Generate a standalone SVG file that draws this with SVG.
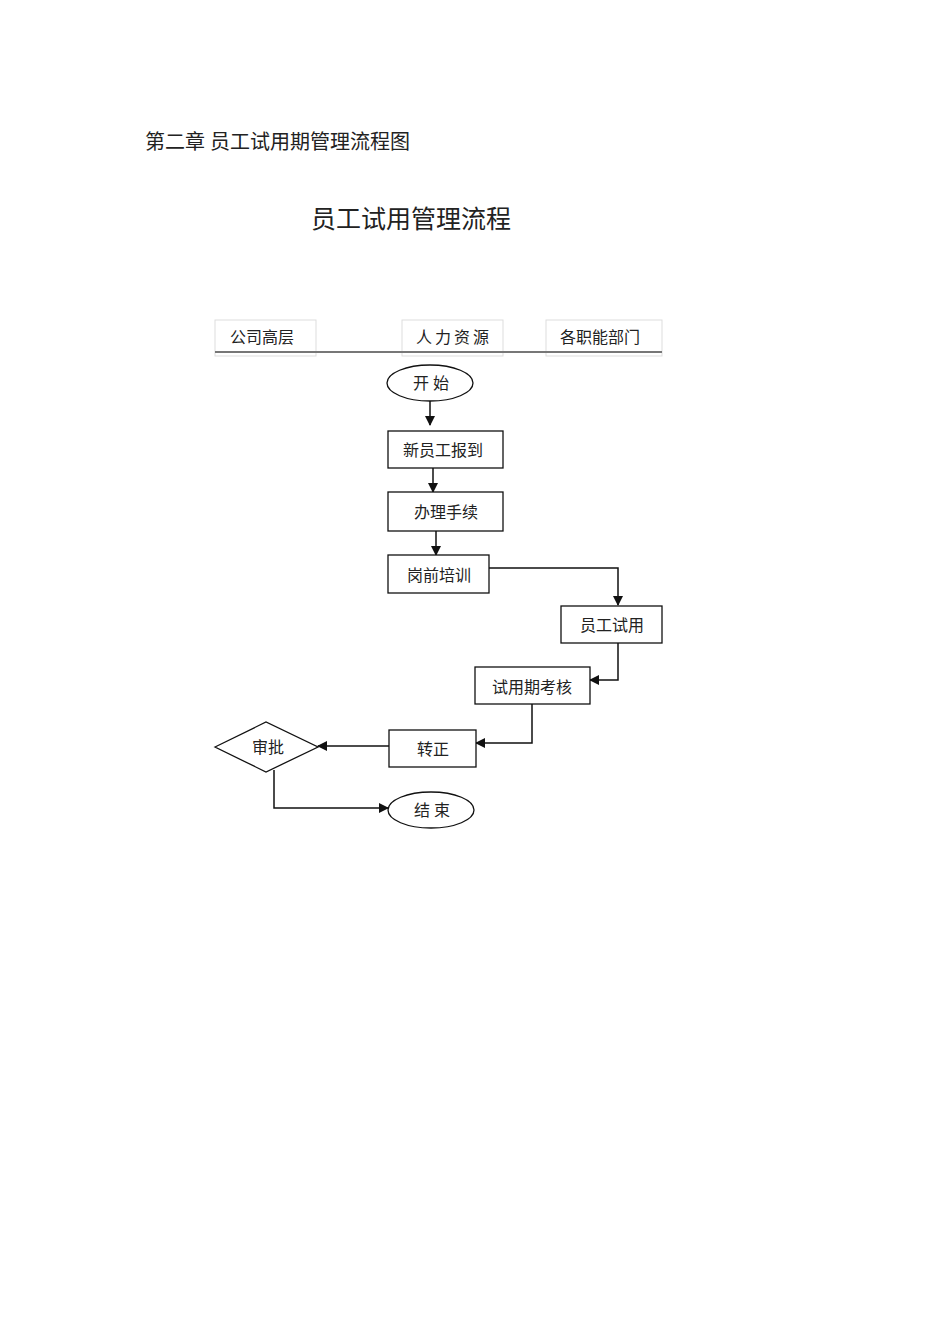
<svg xmlns="http://www.w3.org/2000/svg" width="950" height="1344" viewBox="0 0 950 1344">
<style>
text{font-family:"Liberation Serif","Noto Sans CJK SC",serif;fill:#222}
.n{font-size:16px;text-anchor:middle}
.b{fill:#fff;stroke:#111;stroke-width:1.3}
.c{fill:none;stroke:#111;stroke-width:1.5}
.h{fill:none;stroke:#ddd;stroke-width:1}
</style>
<defs><marker id="a" markerWidth="10" markerHeight="10" refX="9" refY="5" orient="auto" markerUnits="userSpaceOnUse"><path d="M0,0 L10,5 L0,10 Z" fill="#111"/></marker></defs>
<rect width="950" height="1344" fill="#fff"/>
<text x="145" y="149" font-size="20">第二章  员工试用期管理流程图</text>
<text x="311" y="228" font-size="25">员工试用管理流程</text>
<g id="header">
<rect class="h" x="215" y="320" width="101" height="36"/>
<rect class="h" x="402" y="320" width="101" height="36"/>
<rect class="h" x="546" y="320" width="116" height="36"/>
<line x1="215" y1="352" x2="662" y2="352" stroke="#777" stroke-width="2"/>
<text class="n" x="262" y="343">公司高层</text>
<text class="n" x="454" y="343" letter-spacing="3">人力资源</text>
<text class="n" x="600" y="343">各职能部门</text>
</g>
<g id="connectors">
<line class="c" x1="430" y1="401" x2="430" y2="425" marker-end="url(#a)"/>
<line class="c" x1="433" y1="468" x2="433" y2="492" marker-end="url(#a)"/>
<line class="c" x1="436" y1="531" x2="436" y2="555" marker-end="url(#a)"/>
<polyline class="c" points="489,568 618,568 618,605" marker-end="url(#a)"/>
<polyline class="c" points="618,643 618,680 590,680" marker-end="url(#a)"/>
<polyline class="c" points="532,704 532,743 476,743" marker-end="url(#a)"/>
<line class="c" x1="389" y1="746" x2="318" y2="746" marker-end="url(#a)"/>
<polyline class="c" points="274,770 274,808 388,808" marker-end="url(#a)"/>
</g>
<g id="start"><ellipse class="b" cx="430" cy="383" rx="43" ry="18"/><text class="n" x="431" y="389">开 始</text></g>
<g id="n1"><rect class="b" x="388" y="431" width="115" height="37"/><text class="n" x="443" y="456">新员工报到</text></g>
<g id="n2"><rect class="b" x="388" y="492" width="115" height="39" stroke-width="2"/><text class="n" x="446" y="518">办理手续</text></g>
<g id="n3"><rect class="b" x="388" y="555" width="101" height="38"/><text class="n" x="439" y="581">岗前培训</text></g>
<g id="n4"><rect class="b" x="561" y="606" width="101" height="37"/><text class="n" x="612" y="631">员工试用</text></g>
<g id="n5"><rect class="b" x="475" y="667" width="115" height="37"/><text class="n" x="532" y="693">试用期考核</text></g>
<g id="n6"><rect class="b" x="389" y="730" width="87" height="37"/><text class="n" x="433" y="755">转正</text></g>
<g id="n7"><polygon class="b" points="215,747 266,722 318,747 266,772"/><text class="n" x="268" y="753">审批</text></g>
<g id="end"><ellipse class="b" cx="431" cy="810" rx="43" ry="18"/><text class="n" x="432" y="816">结 束</text></g>
</svg>
